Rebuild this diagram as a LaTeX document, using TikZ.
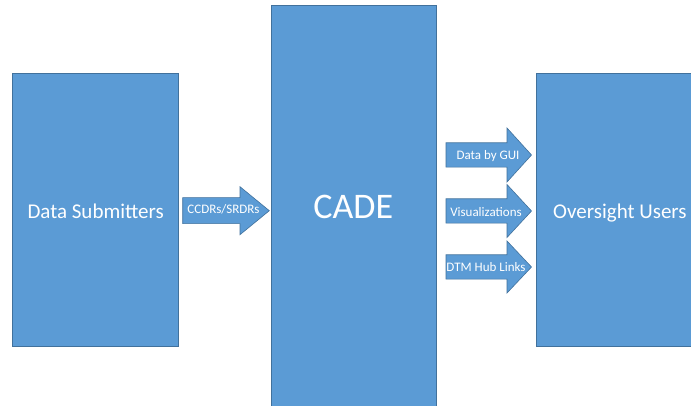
\documentclass[tikz,border=0pt]{standalone}
\usepackage{fontspec}
\setmainfont{Carlito}
\definecolor{boxblue}{HTML}{5B9BD5}
\definecolor{edgeblue}{HTML}{41719C}
\begin{document}
\begin{tikzpicture}[x=1pt,y=-1pt,
  blk/.style={fill=boxblue,draw=edgeblue,line width=0.6pt},
  lbl/.style={text=white,inner sep=0pt,font=\fontsize{21}{24}\selectfont},
  albl/.style={text=white,inner sep=0pt,anchor=base,font=\fontsize{13}{15}\selectfont}]
\useasboundingbox (0,0) rectangle (691,406);
\fill[white] (0,0) rectangle (691,406);
% boxes
\draw[blk] (12,73) rectangle (178,346);
\draw[blk] (271,5) rectangle (436,410);
\draw[blk] (536,73) rectangle (695,346);
\node[lbl,anchor=base west] (ds) at (27.3,219) {Data Submitters};
\node[text=white,inner sep=0pt,anchor=base,font=\fontsize{36}{40}\selectfont] (cade) at (353.3,218.3) {CADE};
\node[lbl,anchor=base west] (ou) at (553,219) {Oversight Users};
% arrows
\newcommand\blockarrow[6]{% x0, xh, xt, yc, body half, head half
  \draw[blk] (#1,#4-#5) -- (#2,#4-#5) -- (#2,#4-#6) -- (#3,#4) -- (#2,#4+#6) -- (#2,#4+#5) -- (#1,#4+#5) -- cycle;}
\blockarrow{182.7}{240}{269.3}{210.7}{13}{24}
\node[albl] (a1) at (223.5,214) {CCDRs/SRDRs};
\blockarrow{446}{507}{531.5}{155}{12.2}{27}
\node[albl] (a2) at (488,160) {Data by GUI};
\blockarrow{446}{507}{531.5}{211}{12.2}{26.5}
\node[albl] (a3) at (486,216.7) {Visualizations};
\blockarrow{446}{507}{531.5}{267}{12.2}{26}
\node[albl] (a4) at (486,271.7) {DTM Hub Links};
\end{tikzpicture}
\end{document}
